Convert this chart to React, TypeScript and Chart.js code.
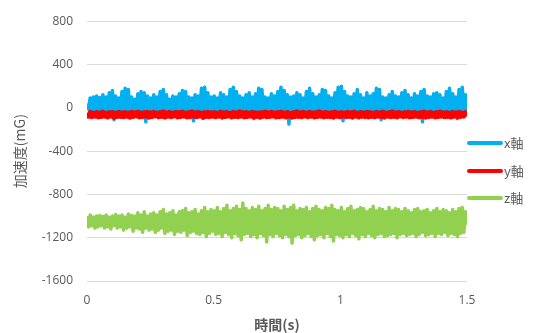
import React, { useEffect, useRef } from "react";
import { Chart, registerables } from "chart.js";

Chart.register(...registerables);

const SERIES_NAMES = ["x軸", "y軸", "z軸"];
const SERIES_COLORS = ["#00B0F0", "#FF0000", "#92D050"];
const SERIES_WIDTHS = [3.5, 5, 3.5];
const X_TICKS = [0, 0.5, 1, 1.5];
const Y_TICKS = [800, 400, 0, -400, -800, -1200, -1600];
const T_START = 0;
const T_END = 1.5;

// acceleration samples (mG), evenly spaced in time from T_START to T_END
const xAxisValues = [
  40, -10, 90, -30, 100, -20, 110, -40, 95, -30, 120, -20, 100, -50, 140, -30, 160, -110, 110, -40,
  90, -30, 150, -20, 180, -40, 170, -30, 100, -50, 80, -20, 130, -30, 150, -40, 140, -130, 110, -30,
  90, -20, 120, -40, 100, -30, 150, -50, 170, -30, 120, -20, 80, -40, 110, -30, 100, -60, 130, -30,
  160, -20, 150, -40, 100, -30, 90, -120, 120, -40, 110, -30, 180, -20, 190, -50, 140, -30, 100, -40,
  110, -30, 90, -20, 140, -40, 120, -60, 100, -30, 170, -30, 190, -20, 150, -40, 110, -30, 90, -50,
  120, -30, 140, -40, 100, -100, 130, -30, 180, -20, 170, -40, 100, -30, 90, -50, 130, -30, 110, -20,
  150, -40, 190, -30, 160, -20, 120, -150, 100, -40, 110, -30, 140, -50, 120, -30, 90, -20, 150, -40,
  180, -30, 130, -60, 100, -30, 120, -20, 170, -40, 160, -30, 110, -50, 90, -30, 140, -20, 190, -40,
  200, -120, 150, -30, 110, -20, 100, -40, 130, -30, 170, -50, 120, -30, 90, -20, 140, -40, 110, -30,
  130, -60, 180, -30, 170, -110, 100, -20, 90, -40, 120, -30, 150, -50, 110, -30, 100, -20, 140, -40,
  160, -30, 120, -20, 90, -40, 130, -50, 110, -30, 150, -130, 170, -30, 110, -20, 100, -40, 130, -30,
  140, -60, 120, -30, 90, -20, 150, -40, 180, -30, 130, -50, 100, -100, 170, -30, 190, -20, 120, -40,
];

const yAxisValues = [
  -48, -78, -42, -82, -50, -76, -44, -85, -46, -80, -40, -78, -52, -84, -45, -76, -43, -88, -49, -80,
  -41, -79, -47, -83, -44, -77, -50, -86, -42, -80, -46, -75, -39, -84, -48, -81, -45, -78, -43, -87,
  -47, -80, -41, -76, -50, -83, -44, -79, -38, -86, -46, -78, -43, -82, -49, -75, -42, -84, -45, -80,
  -40, -77, -48, -85, -44, -81, -37, -78, -46, -83, -42, -76, -50, -88, -45, -79, -41, -82, -47, -77,
  -44, -83, -49, -78, -40, -86, -46, -80, -43, -75, -51, -84, -42, -79, -47, -82, -38, -77, -45, -85,
  -43, -80, -48, -76, -41, -84, -46, -79, -50, -87, -44, -78, -39, -83, -47, -80, -42, -76, -49, -85,
  -45, -81, -40, -78, -47, -84, -43, -77, -51, -86, -44, -80, -38, -79, -46, -83, -42, -76, -48, -82,
  -41, -78, -49, -85, -44, -80, -37, -77, -46, -84, -43, -79, -50, -81, -45, -87, -40, -78, -47, -83,
  -44, -76, -48, -82, -42, -80, -46, -86, -39, -78, -50, -84, -43, -77, -47, -81, -41, -85, -45, -79,
  -48, -83, -42, -77, -46, -80, -40, -86, -49, -78, -44, -82, -38, -79, -47, -84, -43, -76, -50, -81,
  -45, -78, -41, -85, -47, -80, -43, -77, -49, -83, -44, -79, -40, -86, -46, -81, -42, -78, -48, -84,
  -44, -80, -39, -77, -47, -83, -45, -79, -50, -85, -42, -78, -46, -82, -41, -80, -48, -76, -44, -79,
];

const zAxisValues = [
  -1000, -1100, -990, -1090, -1010, -1110, -1000, -1100, -995, -1090, -1005, -1110, -990, -1100, -1010, -1120, -1000, -1090, -985, -1110,
  -1000, -1100, -990, -1130, -1010, -1110, -980, -1100, -995, -1140, -1000, -1110, -970, -1120, -990, -1150, -960, -1110, -1000, -1130,
  -980, -1120, -970, -1150, -990, -1130, -960, -1110, -940, -1160, -980, -1140, -970, -1130, -950, -1170, -990, -1140, -960, -1150,
  -950, -1130, -930, -1180, -970, -1150, -960, -1140, -940, -1160, -980, -1170, -950, -1150, -920, -1190, -960, -1160, -940, -1140,
  -950, -1170, -920, -1160, -960, -1190, -930, -1150, -900, -1170, -950, -1200, -930, -1160, -910, -1180, -940, -1220, -880, -1170,
  -930, -1160, -950, -1190, -920, -1170, -940, -1200, -910, -1160, -950, -1180, -930, -1240, -900, -1170, -940, -1190, -920, -1160,
  -930, -1180, -950, -1200, -910, -1170, -940, -1190, -920, -1250, -900, -1180, -950, -1170, -930, -1200, -940, -1180, -920, -1160,
  -960, -1190, -930, -1220, -910, -1180, -940, -1170, -950, -1200, -920, -1160, -930, -1190, -900, -1230, -940, -1170, -950, -1180,
  -920, -1200, -960, -1170, -930, -1190, -910, -1160, -950, -1180, -940, -1210, -920, -1170, -930, -1190, -960, -1160, -940, -1180,
  -910, -1200, -950, -1170, -930, -1160, -940, -1190, -960, -1180, -920, -1170, -950, -1160, -930, -1200, -940, -1170, -960, -1160,
  -930, -1180, -950, -1170, -970, -1160, -940, -1190, -930, -1170, -960, -1150, -950, -1180, -940, -1170, -970, -1160, -950, -1190,
  -930, -1160, -960, -1170, -940, -1150, -950, -1180, -970, -1160, -940, -1170, -960, -1190, -930, -1160, -920, -1150, -960, -1080,
];

const SERIES_VALUES = [xAxisValues, yAxisValues, zAxisValues];

function toPoints(values: number[]) {
  const dt = (T_END - T_START) / (values.length - 1);
  return values.map((v, i) => ({ x: T_START + i * dt, y: v }));
}

const legendPlugin = {
  id: "customLegend",
  afterDraw(chart: any) {
    const ctx = chart.ctx;
    const x0 = 468;
    const ys = [143, 171, 198];
    ctx.save();
    SERIES_NAMES.forEach((name, i) => {
      ctx.strokeStyle = SERIES_COLORS[i];
      ctx.lineWidth = 4;
      ctx.lineCap = "round";
      ctx.beginPath();
      ctx.moveTo(x0 + 1, ys[i]);
      ctx.lineTo(x0 + 33, ys[i]);
      ctx.stroke();
      ctx.fillStyle = "#595959";
      ctx.font = '13px "Noto Sans CJK JP"';
      ctx.textBaseline = "middle";
      ctx.textAlign = "left";
      ctx.fillText(name, x0 + 36, ys[i]);
    });
    ctx.restore();
  },
};

export default function App() {
  const ref = useRef<HTMLCanvasElement | null>(null);
  useEffect(() => {
    if (!ref.current) return;
    const chart = new Chart(ref.current, {
      type: "scatter",
      data: {
        datasets: SERIES_NAMES.map((name, i) => ({
          label: name,
          data: toPoints(SERIES_VALUES[i]),
          showLine: true,
          borderColor: SERIES_COLORS[i],
          backgroundColor: SERIES_COLORS[i],
          borderWidth: SERIES_WIDTHS[i],
          borderJoinStyle: "round" as const,
          pointRadius: 0,
          tension: 0,
          order: i === 1 ? 1 : i === 0 ? 2 : 3,
        })),
      },
      options: {
        animation: false,
        responsive: false,
        layout: { padding: { top: 17, right: 66, left: 0, bottom: 0 } },
        plugins: { legend: { display: false }, tooltip: { enabled: false } },
        scales: {
          x: {
            type: "linear",
            min: 0,
            max: 1.5,
            afterBuildTicks: (s: any) => {
              s.ticks = X_TICKS.map((v) => ({ value: v }));
            },
            ticks: {
              color: "#595959",
              font: { family: '"Open Sans"', size: 12 },
              padding: 12,
              maxRotation: 0,
              callback: (v: any) => String(v),
            },
            grid: { display: false, drawTicks: false },
            border: { display: false },
            title: {
              display: true,
              text: "時間(s)",
              color: "#595959",
              font: { family: '"Noto Sans CJK JP"', size: 14, weight: "bold" },
              padding: { top: 2, bottom: 0 },
            },
            afterFit: (s: any) => {
              s.height = 52;
            },
          },
          y: {
            type: "linear",
            min: -1600,
            max: 800,
            afterBuildTicks: (s: any) => {
              s.ticks = Y_TICKS.map((v) => ({ value: v }));
            },
            ticks: {
              color: "#595959",
              font: { family: '"Open Sans"', size: 12 },
              padding: 14,
              callback: (v: any) => String(v),
            },
            grid: { color: "#D9D9D9", lineWidth: 1, drawTicks: false },
            border: { display: false },
            title: {
              display: true,
              text: "加速度(mG)",
              color: "#595959",
              font: { family: '"Noto Sans CJK JP"', size: 14 },
              padding: { top: 11, bottom: 0 },
            },
            afterFit: (s: any) => {
              s.width = 87;
            },
          },
        },
      },
      plugins: [legendPlugin],
    });
    return () => chart.destroy();
  }, []);
  return (
    <div style={{ position: "fixed", left: 0, top: 0, width: 533, height: 333, background: "#fff" }}>
      <canvas ref={ref} width={533} height={333} style={{ width: 533, height: 333 }} />
    </div>
  );
}
